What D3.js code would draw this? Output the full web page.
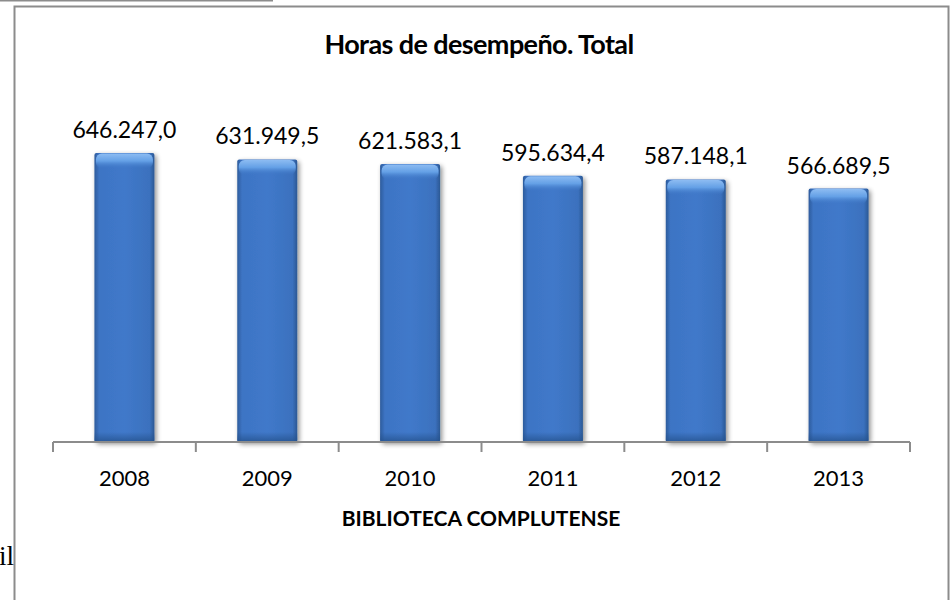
<!DOCTYPE html>
<html>
<head>
<meta charset="utf-8">
<script src="https://cdn.jsdelivr.net/npm/d3@7"></script>
<style>
  body { margin: 0; background: #fff; }
  svg { display: block; }
</style>
</head>
<body>
<div id="chart"></div>
<script>
var years = ["2008", "2009", "2010", "2011", "2012", "2013"];
var horas = [646247.0, 631949.5, 621583.1, 595634.4, 587148.1, 566689.5];
var titleText = "Horas de desempeño. Total";
var axisTitle = "BIBLIOTECA COMPLUTENSE";

var width = 951, height = 600;
var plot = { left: 53, right: 910, top: 129, bottom: 442 };

var svg = d3.select("#chart").append("svg")
  .attr("width", width)
  .attr("height", height);

var defs = svg.append("defs");

// horizontal gradient: darker edges, brighter middle
var gH = defs.append("linearGradient").attr("id", "barH")
  .attr("x1", "0").attr("x2", "1").attr("y1", "0").attr("y2", "0");
gH.append("stop").attr("offset", "0").attr("stop-color", "#2d5c9c");
gH.append("stop").attr("offset", "0.08").attr("stop-color", "#3d74c4");
gH.append("stop").attr("offset", "0.5").attr("stop-color", "#4079ca");
gH.append("stop").attr("offset", "0.92").attr("stop-color", "#3b71be");
gH.append("stop").attr("offset", "1").attr("stop-color", "#2b5894");

// top bevel highlight
var gT = defs.append("linearGradient").attr("id", "barTop")
  .attr("x1", "0").attr("x2", "0").attr("y1", "0").attr("y2", "1");
gT.append("stop").attr("offset", "0").attr("stop-color", "#8dbcf2");
gT.append("stop").attr("offset", "0.5").attr("stop-color", "#64a0e6");
gT.append("stop").attr("offset", "1").attr("stop-color", "#4079c8").attr("stop-opacity", 0);

// bottom darkening
var gB = defs.append("linearGradient").attr("id", "barBot")
  .attr("x1", "0").attr("x2", "0").attr("y1", "0").attr("y2", "1");
gB.append("stop").attr("offset", "0").attr("stop-color", "#24518c").attr("stop-opacity", 0);
gB.append("stop").attr("offset", "1").attr("stop-color", "#24518c").attr("stop-opacity", 0.8);

var shadow = defs.append("filter").attr("id", "shadow")
  .attr("x", "-20%").attr("y", "-10%").attr("width", "150%").attr("height", "130%");
shadow.append("feGaussianBlur").attr("in", "SourceAlpha").attr("stdDeviation", 2.5).attr("result", "blur");
shadow.append("feOffset").attr("in", "blur").attr("dx", 2).attr("dy", 2).attr("result", "off");
shadow.append("feComponentTransfer").attr("in", "off").attr("result", "sh")
  .append("feFuncA").attr("type", "linear").attr("slope", 0.45);
var merge = shadow.append("feMerge");
merge.append("feMergeNode").attr("in", "sh");
merge.append("feMergeNode").attr("in", "SourceGraphic");

// page frame pieces
svg.append("line")
  .attr("x1", 0).attr("x2", 273).attr("y1", 0.5).attr("y2", 0.5)
  .attr("stroke", "#8c8c8c").attr("stroke-width", 2);

svg.append("rect")
  .attr("x", 14.5).attr("y", 6.5)
  .attr("width", 934).attr("height", 620)
  .attr("fill", "#fff")
  .attr("stroke", "#8c8c8c").attr("stroke-width", 2);

svg.append("text")
  .attr("x", -1).attr("y", 565)
  .style("font-family", "'Liberation Serif', 'DejaVu Serif', serif")
  .style("font-size", "27px")
  .attr("fill", "#000")
  .text("il");

var x = d3.scaleBand()
  .domain(years)
  .range([plot.left, plot.right])
  .paddingInner(0)
  .paddingOuter(0);

var y = d3.scaleLinear()
  .domain([0, 700000])
  .range([plot.bottom, plot.top]);

var barW = x.bandwidth() * 0.42;
var fmt = function(v) {
  var s = v.toFixed(1).split(".");
  return s[0].replace(/\B(?=(\d{3})+(?!\d))/g, ".") + "," + s[1];
};

// title
svg.append("text")
  .attr("x", 479).attr("y", 54)
  .attr("text-anchor", "middle")
  .style("font-family", "Lato, 'Open Sans', sans-serif")
  .style("font-weight", "bold")
  .style("font-size", "27px")
  .style("letter-spacing", "-0.6px")
  .attr("fill", "#000")
  .text(titleText);

var bars = svg.append("g").selectAll("g.bar")
  .data(horas)
  .enter().append("g")
  .attr("class", "bar")
  .attr("transform", function(d, i) {
    return "translate(" + (x(years[i]) + (x.bandwidth() - barW) / 2) + "," + y(d) + ")";
  });

bars.append("rect")
  .attr("width", barW)
  .attr("height", function(d) { return y(0) - y(d); })
  .attr("rx", 2)
  .attr("fill", "url(#barH)")
  .attr("filter", "url(#shadow)");

bars.append("rect")
  .attr("x", 1.5).attr("y", 0.5)
  .attr("width", barW - 3)
  .attr("height", 15)
  .attr("rx", 6)
  .attr("fill", "url(#barTop)");

bars.append("rect")
  .attr("x", 0)
  .attr("y", function(d) { return y(0) - y(d) - 10; })
  .attr("width", barW)
  .attr("height", 10)
  .attr("fill", "url(#barBot)");

// value labels
svg.append("g").selectAll("text")
  .data(horas)
  .enter().append("text")
  .attr("x", function(d, i) { return x(years[i]) + x.bandwidth() / 2; })
  .attr("y", function(d) { return y(d) - 15; })
  .attr("text-anchor", "middle")
  .style("font-family", "Lato, 'Open Sans', sans-serif")
  .style("font-size", "23px")
  .attr("fill", "#000")
  .text(function(d) { return fmt(d); });

// x axis
var xAxis = svg.append("g")
  .attr("transform", "translate(0," + plot.bottom + ")")
  .call(d3.axisBottom(x).tickSize(0).tickPadding(28));
xAxis.select(".domain").remove();
xAxis.selectAll("text")
  .style("font-family", "Lato, 'Open Sans', sans-serif")
  .style("font-size", "22px")
  .attr("fill", "#000");

var bounds = years.map(function(c) { return x(c); }).concat([plot.right]);
var axisG = svg.append("g").attr("stroke", "#8c8c8c").attr("stroke-width", 2);
axisG.append("line")
  .attr("x1", plot.left).attr("x2", plot.right)
  .attr("y1", plot.bottom).attr("y2", plot.bottom);
axisG.selectAll("line.tick")
  .data(bounds)
  .enter().append("line")
  .attr("class", "tick")
  .attr("x1", function(d) { return d; }).attr("x2", function(d) { return d; })
  .attr("y1", plot.bottom).attr("y2", plot.bottom + 10);

svg.append("text")
  .attr("x", 481).attr("y", 526)
  .attr("text-anchor", "middle")
  .style("font-family", "Lato, 'Open Sans', sans-serif")
  .style("font-weight", "bold")
  .style("font-size", "21px")
  .attr("fill", "#000")
  .text(axisTitle);
</script>
</body>
</html>
